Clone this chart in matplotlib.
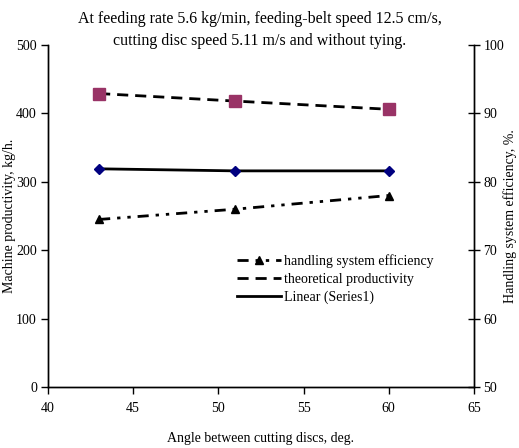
import matplotlib
matplotlib.use("Agg")
import matplotlib.pyplot as plt
from matplotlib.lines import Line2D

angles = [43, 51, 60]
theoretical = [429, 418, 406]
series1 = [319, 316, 316]
efficiency = [74.5, 76.0, 78.0]

plt.rcParams['font.family'] = ['Liberation Serif', 'DejaVu Serif']
plt.rcParams['font.size'] = 10

fig = plt.figure(figsize=(5.19, 4.48), dpi=100)
ax = fig.add_axes([0.0925, 0.136, 0.8205, 0.7636])
ax2 = ax.twinx()

dashdot = (0, (4, 2.5, 1.2, 2.5, 1.2, 2.5))
dash = (0, (4, 2.5))

ax2.plot(angles, efficiency, color='black', lw=2, linestyle=dashdot,
         marker='^', markersize=6, markerfacecolor='black', markeredgecolor='black')
ax.plot(angles, theoretical, color='black', lw=2, linestyle=dash,
        marker='s', markersize=9, markerfacecolor='#993366', markeredgecolor='#993366')
ax.plot(angles, series1, color='black', lw=2, linestyle='-')
ax.plot(angles, series1, linestyle='none', marker='D', markersize=5,
        markerfacecolor='#000080', markeredgecolor='#000080')

ax.set_xlim(40, 65)
ax.set_ylim(0, 500)
ax2.set_ylim(50, 100)
ax.set_xticks([40, 45, 50, 55, 60, 65])
ax.set_yticks([0, 100, 200, 300, 400, 500])
ax2.set_yticks([50, 60, 70, 80, 90, 100])

for a in (ax, ax2):
    a.spines['top'].set_visible(False)
    for s in a.spines.values():
        s.set_linewidth(1)
ax.tick_params(axis='both', direction='out', length=5, width=1, labelsize=10, pad=3)
ax.tick_params(axis='x', pad=6)
ax2.tick_params(axis='y', direction='inout', length=8, width=1, labelsize=10, pad=3)

ax.set_xlabel('Angle between cutting discs, deg.', fontsize=10, labelpad=12)
ax.set_ylabel('Machine productivity, kg/h.', fontsize=10)
ax.yaxis.set_label_coords(-0.075, 0.5)
ax2.set_ylabel('Handling system efficiency, %.', fontsize=10, rotation=90, va='center')
ax2.yaxis.set_label_coords(1.085, 0.5)

fig.text(0.5, 0.958, 'At feeding rate 5.6 kg/min, feeding-belt speed 12.5 cm/s,',
         ha='center', va='center', fontsize=11.5)
fig.text(0.5, 0.908, 'cutting disc speed 5.11 m/s and without tying.',
         ha='center', va='center', fontsize=11.5)

handles = [
    Line2D([], [], color='black', lw=2, linestyle=dashdot, marker='^', markersize=6,
           markerfacecolor='black', markeredgecolor='black'),
    Line2D([], [], color='black', lw=2, linestyle=dash),
    Line2D([], [], color='black', lw=2, linestyle='-'),
]
labels = ['handling system efficiency', 'theoretical productivity', 'Linear (Series1)']
ax.legend(handles=handles, labels=labels, loc='upper left', bbox_to_anchor=(0.43, 0.405),
          frameon=False, fontsize=10, handlelength=3.2, handletextpad=0.2,
          labelspacing=0.35, borderaxespad=0)

fig.savefig('out.png', dpi=100)
